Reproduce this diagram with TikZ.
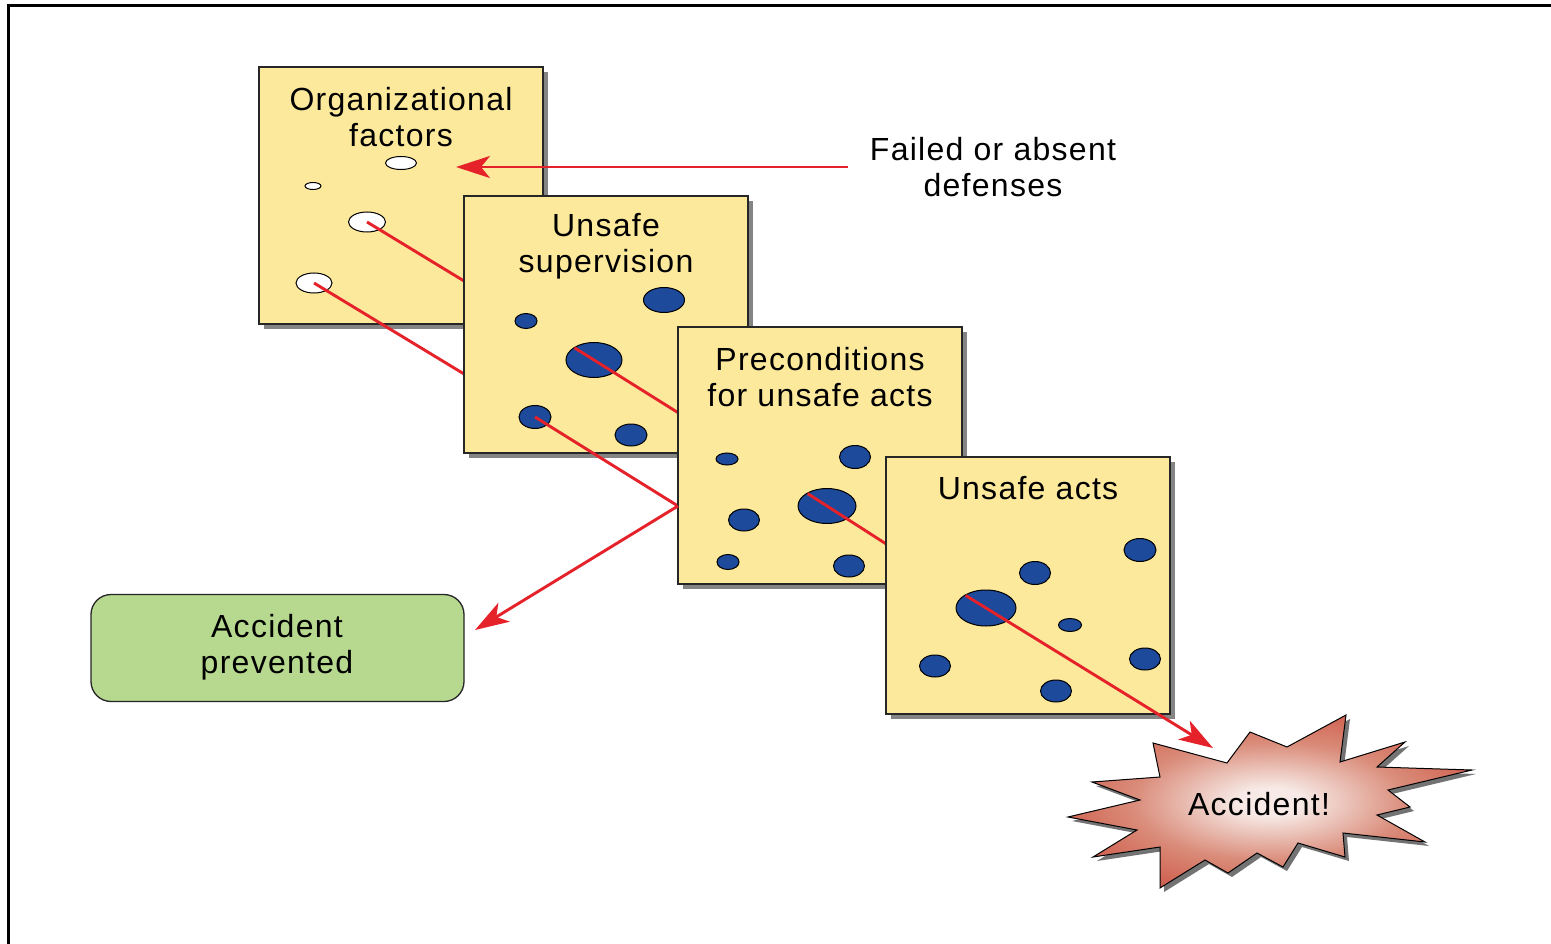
\documentclass[tikz,border=0pt]{standalone}
\usepackage{fontspec}
\setmainfont{Liberation Sans}[LetterSpace=4]
\usetikzlibrary{arrows.meta,shapes.geometric,shadows}
\definecolor{cheese}{HTML}{FCE99C}
\definecolor{holeblue}{HTML}{1D4A9B}
\definecolor{okgreen}{HTML}{B6D98F}
\definecolor{alarm}{HTML}{E52129}
\definecolor{burstc}{HTML}{F7EAE6}
\definecolor{burstm}{HTML}{DA8C7A}
\definecolor{burstr}{HTML}{CD5444}
\definecolor{burste}{HTML}{C21D25}
\pgfdeclareradialshading{burst}{\pgfpoint{0bp}{0bp}}{color(0bp)=(burstc); color(4bp)=(burstc); color(17bp)=(burstm); color(30bp)=(burstr); color(44bp)=(burste); color(50bp)=(burste)}
\begin{document}
\begin{tikzpicture}[x=1pt,y=-1pt,
  lbl/.style={font=\fontsize{32}{36}\selectfont, align=center, inner sep=0pt, text=black},
  panel/.style={draw=black!85, line width=1.3pt, fill=cheese, minimum width=284pt, minimum height=257pt, inner sep=0pt,
    drop shadow={shadow xshift=5pt, shadow yshift=-5pt, fill=black!60, opacity=0.8}},
  hole/.style={ellipse, draw=black, line width=1pt, inner sep=0pt},
  whole/.style={hole, fill=white},
  bhole/.style={hole, fill=holeblue},
  redline/.style={draw=alarm, line width=2.9pt},
  redarrow/.style={redline, -{Stealth[length=34pt,width=22pt,inset=9pt]}},
]
\useasboundingbox (0,0) rectangle (1551,944);
\fill[white] (0,0) rectangle (1551,944);
\draw[line width=3pt, line join=miter] (8.5,944) -- (8.5,6) -- (1551,6);

% coordinates of the holes that the hazard lines pass
\coordinate (c22) at (594,360);
\coordinate (c24) at (535,417);
\coordinate (c33) at (827,506);
\coordinate (c44) at (986,608);
\coordinate (bounce) at (678,506);
\coordinate (tipA) at (1213,748);
\coordinate (tipP) at (475,630);
\coordinate (tipF) at (456,167);
\coordinate (fstart) at (848,167);

% panel 1
\node[panel] (b1) at (401,195.5) {};
\node[lbl] (t1) at (401,117) {Organizational\\factors};
\node[whole, minimum width=31pt, minimum height=13pt] (h11) at (401,163) {};
\node[whole, minimum width=16pt, minimum height=7pt] (h12) at (313,186) {};
\node[whole, minimum width=37pt, minimum height=20pt] (h13) at (367,222) {};
\node[whole, minimum width=36pt, minimum height=20pt] (h14) at (314,283) {};
\draw[redline] (h13.center) -- (c22);
\draw[redline] (h14.center) -- (c24);
\draw[redarrow] (fstart) -- (tipF);

% panel 2
\node[panel] (b2) at (606,324.5) {};
\node[lbl] (t2) at (606,246) {Unsafe\\supervision};
\node[bhole, minimum width=41pt, minimum height=25pt] (h21) at (664,300) {};
\node[bhole, minimum width=22pt, minimum height=15pt] (h23) at (526,321) {};
\node[bhole, minimum width=56pt, minimum height=35pt] (h22) at (c22) {};
\node[bhole, minimum width=32pt, minimum height=23pt] (h24) at (c24) {};
\node[bhole, minimum width=32pt, minimum height=22pt] (h25) at (631,435) {};
\draw[redline, shorten <=-23pt] (h22.center) -- (c33);
\draw[redline] (h24.center) -- (bounce);

% panel 3
\node[panel] (b3) at (820,455.5) {};
\node[lbl] (t3) at (820,377) {Preconditions\\for unsafe acts};
\node[bhole, minimum width=22pt, minimum height=12pt] (h31) at (727,459) {};
\node[bhole, minimum width=31pt, minimum height=23pt] (h32) at (855,457) {};
\node[bhole, minimum width=58pt, minimum height=35pt] (h33) at (c33) {};
\node[bhole, minimum width=31pt, minimum height=22pt] (h34) at (744,520) {};
\node[bhole, minimum width=22pt, minimum height=15pt] (h35) at (728,562) {};
\node[bhole, minimum width=31pt, minimum height=22pt] (h36) at (849,566) {};
\draw[redline, shorten <=-23pt] (h33.center) -- (c44);

% panel 4
\node[panel] (b4) at (1028,585.5) {};
\node[lbl] (t4) at (1028,488) {Unsafe acts};
\node[bhole, minimum width=32pt, minimum height=23pt] (h41) at (1140,550) {};
\node[bhole, minimum width=31pt, minimum height=23pt] (h42) at (1035,573) {};
\node[bhole, minimum width=60pt, minimum height=36pt] (h44) at (c44) {};
\node[bhole, minimum width=23pt, minimum height=13pt] (h43) at (1070,625) {};
\node[bhole, minimum width=31pt, minimum height=22pt] (h45) at (935,666) {};
\node[bhole, minimum width=31pt, minimum height=22pt] (h46) at (1145,659) {};
\node[bhole, minimum width=31pt, minimum height=22pt] (h47) at (1056,691) {};
\draw[redarrow, shorten <=-24pt] (h44.center) -- (tipA);

% defenses label
\node[lbl] (fd) at (993,167) {Failed or absent\\defenses};

% accident prevented
\node[draw=black!85, line width=1.3pt, fill=okgreen, rounded corners=20pt, minimum width=373pt, minimum height=107pt, inner sep=0pt] (ok) at (277.5,648) {};
\node[lbl] (okt) at (277,647) {Accident\\prevented};
\draw[redarrow] (bounce) -- (tipP);

% accident starburst
\def\burstpath{(1068,817) -- (1140,800) -- (1092,782) -- (1160,777) -- (1153,743) -- (1227,763) -- (1250,732) -- (1287,747) -- (1346,715) -- (1340,762) -- (1405,742) -- (1377,767) -- (1472,770) -- (1388,790) -- (1410,807) -- (1377,815) -- (1425,842) -- (1343,833) -- (1345,857) -- (1298,843) -- (1283,867) -- (1257,853) -- (1228,873) -- (1205,860) -- (1160,888) -- (1160,847) -- (1093,857) -- (1137,830) -- cycle}
\fill[black!55, xshift=4pt, yshift=-4pt] \burstpath;
\shade[shading=burst, draw=black, line width=1pt, line join=miter] \burstpath;
\node[lbl] (acc) at (1259,804) {Accident!};
\end{tikzpicture}
\end{document}
